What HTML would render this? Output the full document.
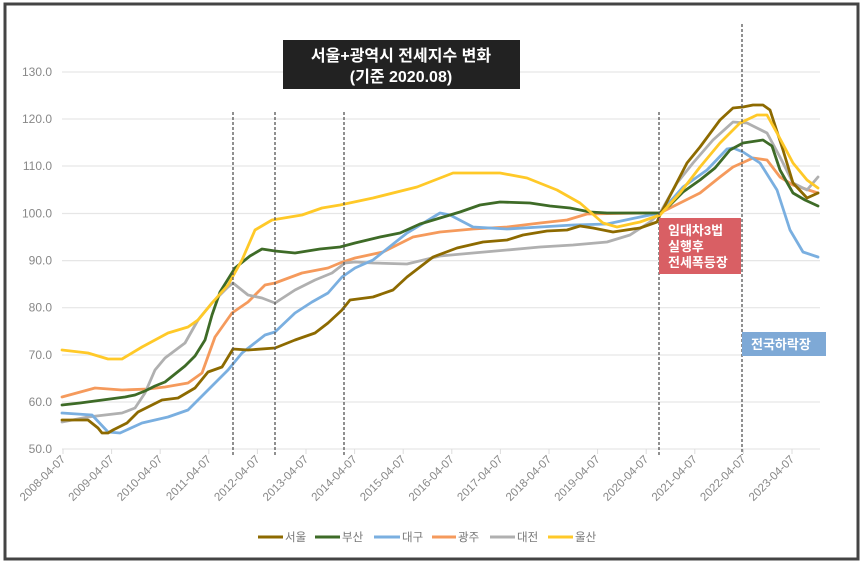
<!DOCTYPE html>
<html><head><meta charset="utf-8"><style>
body{margin:0;background:#fff;}
svg{display:block;font-family:"Liberation Sans","Noto Sans CJK KR",sans-serif;}
</style></head><body>
<svg width="863" height="565" viewBox="0 0 863 565" xmlns="http://www.w3.org/2000/svg">
<rect x="0" y="0" width="863" height="565" fill="#fff"/>
<rect x="5" y="4" width="853" height="555" fill="none" stroke="#444" stroke-width="3"/>
<g stroke="#e6e6e6" stroke-width="1.2">
<line x1="62" y1="72" x2="820" y2="72"/><line x1="62" y1="119" x2="820" y2="119"/>
<line x1="62" y1="166" x2="820" y2="166"/><line x1="62" y1="213.5" x2="820" y2="213.5"/>
<line x1="62" y1="260.6" x2="820" y2="260.6"/><line x1="62" y1="307.7" x2="820" y2="307.7"/>
<line x1="62" y1="355" x2="820" y2="355"/><line x1="62" y1="402" x2="820" y2="402"/>
<line x1="62" y1="449" x2="820" y2="449"/>
</g>
<g stroke="#ddd" stroke-width="1">
<line x1="63" y1="449" x2="63" y2="454"/><line x1="111.6" y1="449" x2="111.6" y2="454"/><line x1="160.2" y1="449" x2="160.2" y2="454"/><line x1="208.8" y1="449" x2="208.8" y2="454"/><line x1="257.4" y1="449" x2="257.4" y2="454"/><line x1="306" y1="449" x2="306" y2="454"/><line x1="354.6" y1="449" x2="354.6" y2="454"/><line x1="403.2" y1="449" x2="403.2" y2="454"/><line x1="451.8" y1="449" x2="451.8" y2="454"/><line x1="500.4" y1="449" x2="500.4" y2="454"/><line x1="549" y1="449" x2="549" y2="454"/><line x1="597.6" y1="449" x2="597.6" y2="454"/><line x1="646.2" y1="449" x2="646.2" y2="454"/><line x1="694.8" y1="449" x2="694.8" y2="454"/><line x1="743.4" y1="449" x2="743.4" y2="454"/><line x1="792" y1="449" x2="792" y2="454"/>
</g>
<g font-size="12" fill="#888" text-anchor="end">
<text x="52" y="76">130.0</text><text x="52" y="123">120.0</text><text x="52" y="170">110.0</text><text x="52" y="217.5">100.0</text><text x="52" y="264.6">90.0</text><text x="52" y="311.7">80.0</text><text x="52" y="359">70.0</text><text x="52" y="406">60.0</text><text x="52" y="453">50.0</text>
</g>
<g font-size="11.5" fill="#888" text-anchor="end">
<text transform="translate(66,460) rotate(-45)">2008-04-07</text>
<text transform="translate(114.6,460) rotate(-45)">2009-04-07</text>
<text transform="translate(163.2,460) rotate(-45)">2010-04-07</text>
<text transform="translate(211.8,460) rotate(-45)">2011-04-07</text>
<text transform="translate(260.4,460) rotate(-45)">2012-04-07</text>
<text transform="translate(309,460) rotate(-45)">2013-04-07</text>
<text transform="translate(357.6,460) rotate(-45)">2014-04-07</text>
<text transform="translate(406.2,460) rotate(-45)">2015-04-07</text>
<text transform="translate(454.8,460) rotate(-45)">2016-04-07</text>
<text transform="translate(503.4,460) rotate(-45)">2017-04-07</text>
<text transform="translate(552,460) rotate(-45)">2018-04-07</text>
<text transform="translate(600.6,460) rotate(-45)">2019-04-07</text>
<text transform="translate(649.2,460) rotate(-45)">2020-04-07</text>
<text transform="translate(697.8,460) rotate(-45)">2021-04-07</text>
<text transform="translate(746.4,460) rotate(-45)">2022-04-07</text>
<text transform="translate(795,460) rotate(-45)">2023-04-07</text>
</g>
<g fill="none" stroke-width="2.8" stroke-linejoin="round" stroke-linecap="round">
<polyline stroke="#f59a5c" points="62,397 95,388 122,390 148,389 165,387 188,383 202,373 215,337 232,313 248,302 265,285 275,283 302,273 328,268 340,263 355,258 383,252 413,237 440,232 473,229 507,227 540,223 567,220 587,214 640,213 660,213 680,203 700,193 720,177 733,167 753,158 767,160 780,177 793,185 818,193"/>
<polyline stroke="#b0b0b0" points="62,422 88,417 105,415 122,413 135,408 145,393 155,370 165,358 185,343 198,320 212,303 228,287 233,283 248,295 262,298 275,303 295,290 315,280 332,273 345,263 355,262 373,263 407,264 440,256 473,253 507,250 540,247 573,245 607,242 630,235 650,222 660,213 677,183 693,163 713,140 733,122 747,123 767,133 780,157 793,183 807,190 818,177"/>
<polyline stroke="#7aafe0" points="62,413 92,415 108,432 120,433 142,423 168,417 188,410 208,390 228,370 242,353 265,335 275,332 295,313 312,302 328,293 342,277 355,268 373,260 407,233 440,213 450,215 473,227 507,229 573,225 607,224 640,217 660,213 683,187 707,170 727,149 733,148 743,152 760,163 777,190 790,230 803,252 818,257"/>
<polyline stroke="#3e6b27" points="62,405 80,403 95,401 110,399 125,397 135,395 145,391 155,386 165,382 175,374 185,366 195,356 205,340 212,315 220,292 235,268 250,256 262,249 275,251 295,253 320,249 340,247 355,243 380,237 400,233 420,224 440,218 460,212 480,205 500,202 530,203 550,206 570,208 590,212 607,213 655,213 660,213 670,205 683,192 700,180 715,168 730,150 743,143 763,140 772,146 780,170 793,193 805,200 818,206"/>
<polyline stroke="#8d6a00" points="62,420 88,420 98,428 102,433 108,433 113,430 127,423 138,412 162,400 178,398 195,388 208,372 222,367 233,349 248,350 275,348 295,340 315,333 328,323 342,310 350,300 373,297 393,290 407,277 433,257 457,248 483,242 507,240 523,235 547,231 567,230 580,226 593,228 613,232 640,228 657,222 660,215 673,190 687,163 700,147 720,120 733,108 743,107 753,105 763,105 770,110 783,150 793,183 807,198 818,193"/>
<polyline stroke="#ffc928" points="62,350 88,353 108,359 122,359 142,347 168,333 188,327 198,320 212,303 228,285 242,260 255,230 272,220 302,215 322,208 340,205 373,198 417,187 453,173 500,173 527,178 557,190 580,203 603,223 617,227 640,222 660,215 680,193 700,167 720,143 740,123 757,115 767,115 777,133 793,163 807,180 818,188"/>
</g>
<g stroke="#555" stroke-width="1.3" stroke-dasharray="3,2">
<line x1="233" y1="112" x2="233" y2="455"/>
<line x1="275" y1="112" x2="275" y2="455"/>
<line x1="344" y1="112" x2="344" y2="455"/>
<line x1="659" y1="112" x2="659" y2="455"/>
<line x1="742" y1="24" x2="742" y2="455"/>
</g>
<rect x="659" y="218" width="82" height="56" fill="#d95f64"/>
<g font-size="13" fill="#fff" font-weight="bold"><text x="668" y="235">임대차3법</text><text x="668" y="251">실행후</text><text x="668" y="267">전세폭등장</text></g>
<rect x="742" y="332" width="84" height="24" fill="#7ea9d6"/>
<text x="751" y="349" font-size="13" fill="#fff" font-weight="bold">전국하락장</text>
<rect x="283" y="40" width="237" height="49" fill="#222"/>
<g font-size="16" fill="#fff" font-weight="bold" text-anchor="middle"><text x="401" y="61">서울+광역시 전세지수 변화</text><text x="401" y="82">(기준 2020.08)</text></g>
<g stroke-width="3">
<line x1="258" y1="537" x2="283" y2="537" stroke="#8d6a00"/>
<line x1="315" y1="537" x2="340" y2="537" stroke="#3e6b27"/>
<line x1="374" y1="537" x2="400" y2="537" stroke="#7aafe0"/>
<line x1="432" y1="537" x2="456" y2="537" stroke="#f59a5c"/>
<line x1="490" y1="537" x2="515" y2="537" stroke="#b0b0b0"/>
<line x1="548" y1="537" x2="573" y2="537" stroke="#ffc928"/>
</g>
<g font-size="11.5" fill="#777">
<text x="285" y="541">서울</text><text x="342" y="541">부산</text><text x="402" y="541">대구</text><text x="458" y="541">광주</text><text x="517" y="541">대전</text><text x="575" y="541">울산</text>
</g>
</svg>
</body></html>
